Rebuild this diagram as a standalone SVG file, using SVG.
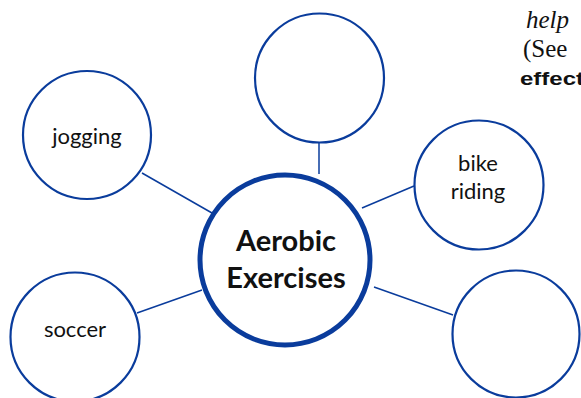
<svg xmlns="http://www.w3.org/2000/svg" width="581" height="398" viewBox="0 0 581 398">
<style>
.n{fill:#fff;stroke:#0a3c9c;stroke-width:2.2}
.c{fill:#fff;stroke:#0a3c9c;stroke-width:5}
.l{stroke:#0a3c9c;stroke-width:1.5;fill:none}
.t{font-family:Lato,"Open Sans",sans-serif;font-size:22px;fill:#111;text-anchor:middle}
.tc{font-family:Lato,"Open Sans",sans-serif;font-size:29px;font-weight:bold;fill:#111;text-anchor:middle}
.s{font-family:"Liberation Serif",serif;font-size:25px;fill:#111}
</style>
<rect width="581" height="398" fill="#fff"/>
<g id="connectors">
<line class="l" x1="319" y1="143" x2="319" y2="174"/>
<line class="l" x1="142" y1="173" x2="212" y2="213"/>
<line class="l" x1="137" y1="313" x2="202" y2="290"/>
<line class="l" x1="362" y1="208" x2="414" y2="186"/>
<line class="l" x1="374" y1="287" x2="453" y2="315"/>
</g>
<g id="top"><circle class="n" cx="319.5" cy="78" r="64.5"/></g>
<g id="jogging"><circle class="n" cx="87" cy="135" r="64"/><text class="t" x="87" y="144">jogging</text></g>
<g id="bike"><circle class="n" cx="479" cy="185" r="64.5"/><text class="t" x="478" y="171">bike</text><text class="t" x="478" y="199">riding</text></g>
<g id="soccer"><circle class="n" cx="75" cy="337" r="64.5"/><text class="t" x="75" y="337">soccer</text></g>
<g id="bottomright"><circle class="n" cx="516" cy="334" r="63.5"/></g>
<g id="center"><circle class="c" cx="285" cy="260" r="85"/><text class="tc" x="286" y="251">Aerobic</text><text class="tc" x="286" y="288">Exercises</text></g>
<g id="side">
<text class="s" x="526" y="28" font-style="italic">help</text>
<text class="s" x="523" y="57">(See</text>
<text x="520" y="85" font-family="Liberation Sans,Arial,sans-serif" font-weight="bold" font-size="18" fill="#111" textLength="64" lengthAdjust="spacingAndGlyphs">effect</text>
</g>
</svg>
